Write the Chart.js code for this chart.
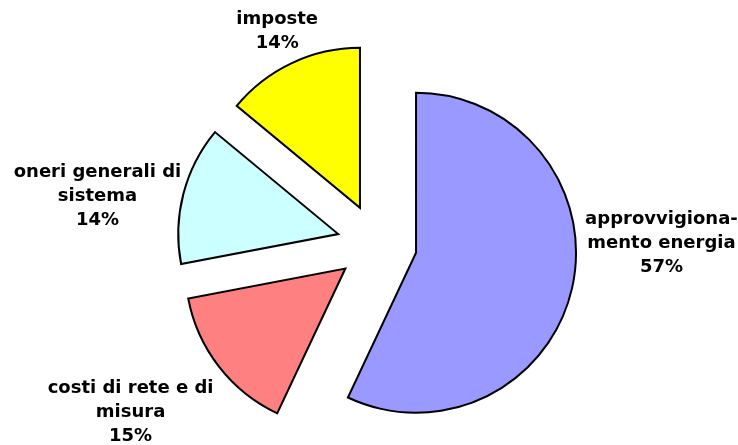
<!DOCTYPE html>
<html>
<head>
<meta charset="utf-8">
<script src="https://cdn.jsdelivr.net/npm/chart.js@4.4.1/dist/chart.umd.min.js"></script>
<style>
  html, body { margin: 0; padding: 0; background: #fff; }
  #wrap { width: 738px; height: 445px; position: relative; }
</style>
</head>
<body>
<div id="wrap"><canvas id="pie"></canvas></div>
<script>
// slices, clockwise from 12 o'clock
const labels = [
  ['approvvigiona-', 'mento energia'],
  ['costi di rete e di', 'misura'],
  ['oneri generali di', 'sistema'],
  ['imposte'],
];
const shares = [57, 15, 14, 14];
const colors = ['#9999FF', '#FF8080', '#CCFFFF', '#FFFF00'];

const RADIUS = 160;   // radius of every slice
const EXPLODE = 40;   // how far each slice is pulled out along its mid angle

// pull every slice out (Chart.js' own offset also grows/shrinks the arc, so move the centre instead)
const explode = {
  id: 'explode',
  afterDatasetUpdate(chart, args) {
    args.meta.data.forEach(arc => {
      const mid = (arc.startAngle + arc.endAngle) / 2;
      arc.x += Math.cos(mid) * EXPLODE;
      arc.y += Math.sin(mid) * EXPLODE;
    });
  },
};

// outside labels, Excel style
const sliceLabels = {
  id: 'sliceLabels',
  afterDatasetsDraw(chart, args, opts) {
    const ctx = chart.ctx;
    const arcs = chart.getDatasetMeta(0).data;
    ctx.save();
    ctx.font = opts.font;
    ctx.fillStyle = '#000';
    ctx.textAlign = 'center';
    ctx.textBaseline = 'middle';
    arcs.forEach((arc, i) => {
      const lines = labels[i].concat([shares[i] + '%']);
      const mid = (arc.startAngle + arc.endAngle) / 2;
      const dx = Math.cos(mid), dy = Math.sin(mid);
      const w = Math.max(...lines.map(l => ctx.measureText(l).width));
      const h = lines.length * opts.lineHeight;
      const n = opts.nudge[i];
      const cx = arc.x + dx * (RADIUS + opts.gap) + dx * w / 2 + n[0];
      const cy = arc.y + dy * (RADIUS + opts.gap) + dy * h / 2 + n[1];
      lines.forEach((l, k) => {
        ctx.fillText(l, cx, cy - h / 2 + opts.lineHeight * (k + 0.5));
      });
    });
    ctx.restore();
  },
};

new Chart(document.getElementById('pie'), {
  type: 'pie',
  data: {
    labels: labels.map(l => l.join(' ')),
    datasets: [{
      data: shares,
      backgroundColor: colors,
      borderColor: '#000',
      borderWidth: 2,
      borderJoinStyle: 'miter',
    }],
  },
  options: {
    responsive: true, maintainAspectRatio: false,
    animation: false,
    radius: RADIUS,
    layout: { padding: { left: 16, top: 43, right: 0, bottom: 0 } },
    plugins: {
      legend: { display: false },
      tooltip: { enabled: false },
      sliceLabels: {
        font: "bold 18px 'DejaVu Sans', sans-serif",
        lineHeight: 24,
        gap: 10,
        nudge: [[5, -54], [-15, 18], [5, 14], [7, -1]],
      },
    },
  },
  plugins: [explode, sliceLabels],
});
</script>
</body>
</html>
